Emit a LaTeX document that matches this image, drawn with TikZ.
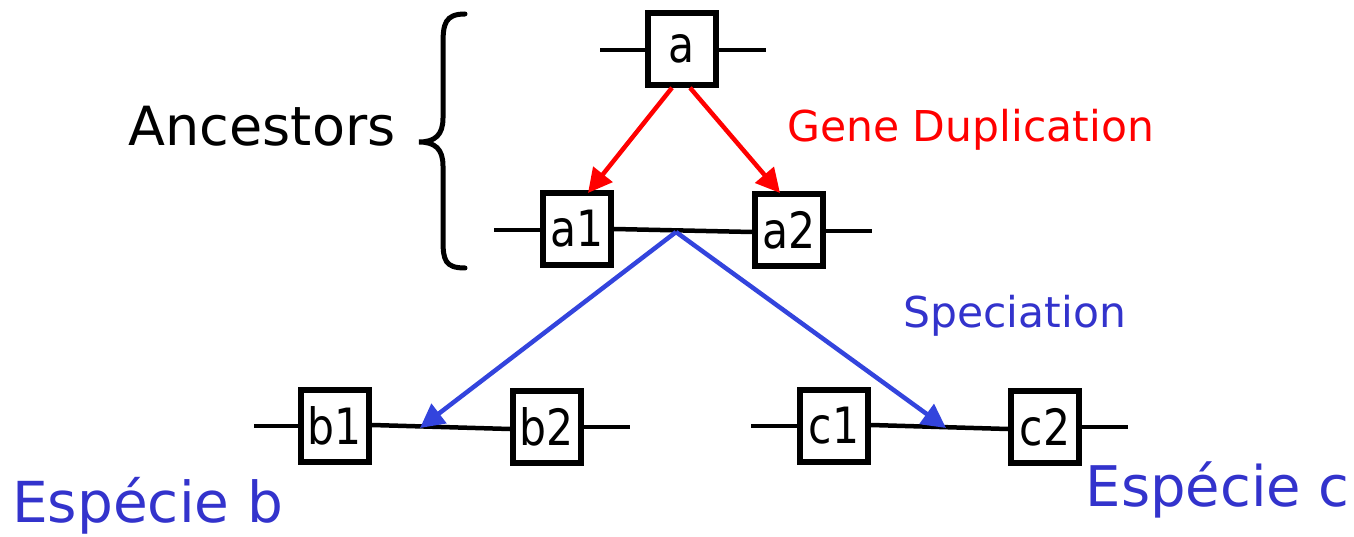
\documentclass[tikz,border=0pt]{standalone}
\usepackage{fontspec}
\setmainfont{DejaVu Sans}
\newfontfamily\boxfont[FakeStretch=0.85]{DejaVu Sans}
\usetikzlibrary{arrows.meta}
\definecolor{dup}{RGB}{255,0,0}
\definecolor{spec}{RGB}{51,68,221}
\definecolor{spectext}{RGB}{51,51,204}
\tikzset{
  gene/.style={draw, line width=5.5pt, minimum width=68pt, minimum height=72pt, inner sep=0pt, font=\boxfont\fontsize{50}{50}\selectfont, fill=white},
  stub/.style={line width=4.5pt},
  duparrow/.style={draw=dup, line width=4.5pt, -{Triangle[length=24pt,width=24pt]}},
  specarrow/.style={draw=spec, line width=4.5pt, -{Triangle[length=24pt,width=24pt]}},
}
\begin{document}
\begin{tikzpicture}[x=1pt,y=-1pt]
\useasboundingbox (0,0) rectangle (1354,537);
% nodes
\node[gene] (a) at (682,49) {a};
\node[gene] (a1) at (577,229) {a1};
\node[gene] (a2) at (789,230) {a2};
\node[gene] (b1) at (335,426) {b1};
\node[gene] (b2) at (547,427) {b2};
\node[gene] (c1) at (834,426) {c1};
\node[gene] (c2) at (1045,427) {c2};
% stubs
\coordinate (aL) at (600,50);
\coordinate (aR) at (766,50);
\coordinate (a1L) at (494,230);
\coordinate (a2R) at (872,231);
\coordinate (b1L) at (254,426);
\coordinate (b2R) at (630,427);
\coordinate (c1L) at (751,426);
\coordinate (c2R) at (1128,427);
\draw[stub] (aL) -- (aL -| a.west);
\draw[stub] (aR -| a.east) -- (aR);
\draw[stub] (a1L) -- (a1L -| a1.west);
\draw[stub] (a2R -| a2.east) -- (a2R);
\draw[stub] (b1L) -- (b1L -| b1.west);
\draw[stub] (b2R -| b2.east) -- (b2R);
\draw[stub] (c1L) -- (c1L -| c1.west);
\draw[stub] (c2R -| c2.east) -- (c2R);
% links between genes
\coordinate (a1e) at (614,229);
\coordinate (a2w) at (752,232);
\coordinate (b1e) at (372,425);
\coordinate (b2w) at (510,429);
\coordinate (c1e) at (871,425);
\coordinate (c2w) at (1008,429);
\draw[stub] (a1e) -- (a2w);
\draw[stub] (b1e) -- (b2w);
\draw[stub] (c1e) -- (c2w);
\coordinate (apex) at (676,232);
\coordinate (btip) at (420,428);
\coordinate (ctip) at (946,428);
% duplication arrows
\draw[duparrow] ([xshift=-10pt]a.south) -- (588,193);
\draw[duparrow] ([xshift=8pt]a.south) -- (780,193);
% speciation arrows
\draw[specarrow] (apex) -- (btip);
\draw[specarrow] (apex) -- (ctip);
% labels
\node[font=\fontsize{54}{54}\selectfont, anchor=center] (anc) at (262,126) {Ancestors};
\node[font=\fontsize{42.5}{42.5}\selectfont, text=dup, anchor=west, inner sep=0pt] (gd) at (787,130) {Gene Duplication};
\node[font=\fontsize{42.5}{42.5}\selectfont, text=spectext, anchor=west, inner sep=0pt] (sp) at (903,316) {Speciation};
\node[font=\fontsize{56.5}{56.5}\selectfont, text=spectext, anchor=west, inner sep=0pt] (eb) at (12,506) {Espécie b};
\node[font=\fontsize{56}{56}\selectfont, text=spectext, anchor=east, inner sep=0pt] (ec) at (1350,490) {Espécie c};
% brace
\draw[line width=5pt, line cap=round] (465,14) .. controls (445,14) and (443,24) .. (443,44)
  -- (443,118) .. controls (443,135) and (435,142) .. (419,142)
  .. controls (435,142) and (443,149) .. (443,166)
  -- (443,240) .. controls (443,260) and (445,268) .. (465,268);
\end{tikzpicture}
\end{document}
